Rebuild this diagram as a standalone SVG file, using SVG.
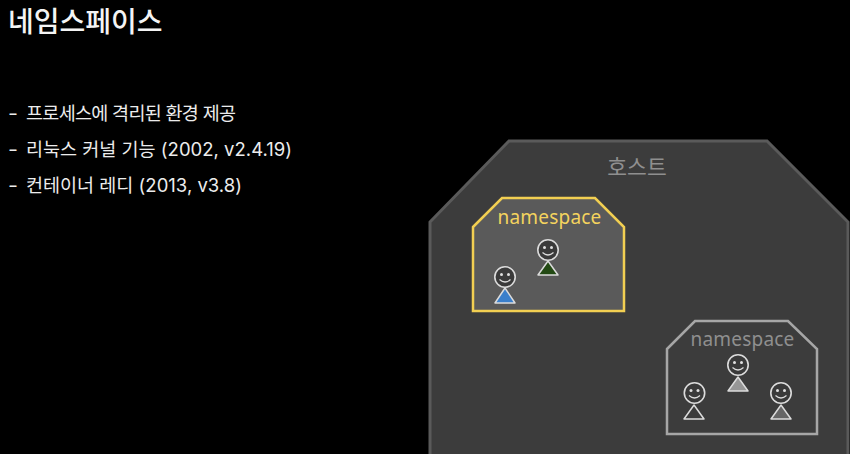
<svg xmlns="http://www.w3.org/2000/svg" width="850" height="454" viewBox="0 0 850 454">
<style>
text{font-family:"Inter","Noto Sans CJK KR",sans-serif}
.b{fill:#ececec;font-size:18.500px}
.h{fill:#3a3a3a;stroke:#dcdcdc;stroke-width:1.600}
.e{fill:#e0e0e0}
.s{fill:none;stroke:#dcdcdc;stroke-width:1.200}
.t{stroke:#dcdcdc;stroke-width:1.500;stroke-linejoin:round}
.ns{font-size:19px;text-anchor:middle;font-family:"Noto Sans",sans-serif;letter-spacing:.2px}
</style>
<defs>
<g id="p">
<circle cx="0" cy="-11" r="10.200" class="h"/>
<circle cx="-3.500" cy="-13.500" r="1.500" class="e"/><circle cx="3.500" cy="-13.500" r="1.500" class="e"/>
<path d="M-5.500-8.500Q0-3.500 5.500-8.500" class="s"/>
</g>
</defs>
<rect width="850" height="454" fill="#000"/>
<text id="title" x="8" y="32" font-size="28" font-weight="500" fill="#f4f4f4">네임스페이스</text>
<g id="bullets">
<text x="8" y="120" class="b" textLength="10" lengthAdjust="spacingAndGlyphs">-</text><text x="26" y="120" class="b" textLength="210">프로세스에 격리된 환경 제공</text>
<text x="8" y="156" class="b" textLength="10" lengthAdjust="spacingAndGlyphs">-</text><text x="26" y="156" class="b" textLength="266">리눅스 커널 기능 (2002, v2.4.19)</text>
<text x="8" y="192" class="b" textLength="10" lengthAdjust="spacingAndGlyphs">-</text><text x="26" y="192" class="b" textLength="216">컨테이너 레디 (2013, v3.8)</text>
</g>
<g id="host">
<path d="M430 222L509 141H767L848 222V460H430Z" fill="#3c3c3c" stroke="#5a5a5a" stroke-width="3"/>
<text x="637" y="175" font-size="21.500" text-anchor="middle" fill="#8f8f8f">호스트</text>
</g>
<g id="namespace1">
<path d="M473 227L502 198H595L624 227V311H473Z" fill="#5a5a5a" stroke="#f2cf52" stroke-width="2.500"/>
<text x="549.500" y="224" class="ns" fill="#f4d35e">namespace</text>
</g>
<g id="person1"><path d="M505 288L495 303H515Z" fill="#3a7fcb" class="t"/><use href="#p" x="505" y="288"/></g>
<g id="person2"><path d="M548 261L538 275H558Z" fill="#234a14" class="t"/><use href="#p" x="548" y="261"/></g>
<g id="namespace2">
<path d="M667 349L695 321H788L817 349V434H667Z" fill="#3c3c3c" stroke="#a6a6a6" stroke-width="2.500"/>
<text x="742.500" y="346" class="ns" fill="#8f8f8f">namespace</text>
</g>
<g id="person3"><path d="M694 405L684 419H704Z" fill="#3c3c3c" class="t"/><use href="#p" x="694.500" y="404"/></g>
<g id="person4"><path d="M738 377L728 391H748Z" fill="#969696" class="t"/><use href="#p" x="738" y="376"/></g>
<g id="person5"><path d="M781 405L771 419H791Z" fill="#666" class="t"/><use href="#p" x="781" y="404"/></g>
<g id="connectors"></g>
</svg>
